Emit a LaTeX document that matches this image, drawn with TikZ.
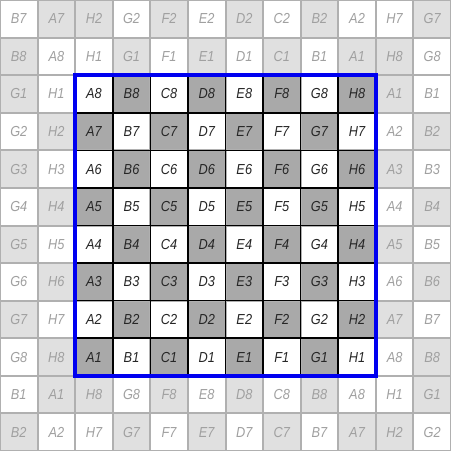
\documentclass[tikz,border=0pt]{standalone}
\usepackage{fontspec}
\setmainfont{Liberation Sans}
\newfontfamily\cellfont[FakeStretch=0.88]{Liberation Sans}
\definecolor{outerfill}{HTML}{E0E0E0}
\definecolor{innerfill}{HTML}{A9A9A9}
\definecolor{outerline}{HTML}{B0B0B0}
\definecolor{outertext}{HTML}{A0A0A0}
\definecolor{frameblue}{HTML}{0000F0}
\def\parselab#1#2\relax{\def\labfile{#1}\def\labrank{#2}%
  \ifodd\numexpr`#1+#2\relax\def\isdark{0}\else\def\isdark{1}\fi}
\begin{document}
\begin{tikzpicture}[x=37.5833pt,y=-37.5833pt,
  lab/.style={font=\cellfont\itshape\fontsize{14.5}{15}\selectfont, inner sep=0pt, anchor=center},
  outerlines/.style={draw=outerline, line width=2pt},
  innerlines/.style={draw=black, line width=1.6pt},
  frame/.style={draw=frameblue, line width=3.5pt}]
\useasboundingbox (0,0) rectangle (12,12);
\clip (0,0) rectangle (12,12);
\def\boardrows{%
 {B7,A7,H2,G2,F2,E2,D2,C2,B2,A2,H7,G7},
 {B8,A8,H1,G1,F1,E1,D1,C1,B1,A1,H8,G8},
 {G1,H1,A8,B8,C8,D8,E8,F8,G8,H8,A1,B1},
 {G2,H2,A7,B7,C7,D7,E7,F7,G7,H7,A2,B2},
 {G3,H3,A6,B6,C6,D6,E6,F6,G6,H6,A3,B3},
 {G4,H4,A5,B5,C5,D5,E5,F5,G5,H5,A4,B4},
 {G5,H5,A4,B4,C4,D4,E4,F4,G4,H4,A5,B5},
 {G6,H6,A3,B3,C3,D3,E3,F3,G3,H3,A6,B6},
 {G7,H7,A2,B2,C2,D2,E2,F2,G2,H2,A7,B7},
 {G8,H8,A1,B1,C1,D1,E1,F1,G1,H1,A8,B8},
 {B1,A1,H8,G8,F8,E8,D8,C8,B8,A8,H1,G1},
 {B2,A2,H7,G7,F7,E7,D7,C7,B7,A7,H2,G2}}
% fills
\foreach \rowlist [count=\ri from 0] in \boardrows {
  \foreach \lab [count=\ci from 0] in \rowlist {
    \expandafter\parselab\lab\relax
    \pgfmathtruncatemacro\isinner{(\ri>1)&&(\ri<10)&&(\ci>1)&&(\ci<10)}
    \ifnum\isdark=1
      \ifnum\isinner=1 \def\cellfill{innerfill}\else\def\cellfill{outerfill}\fi
    \else
      \def\cellfill{white}
    \fi
    \fill[\cellfill] (\ci,\ri) rectangle ++(1,1);
  }
}
% grid lines
\foreach \k in {0,...,12} {
  \draw[outerlines] (\k,0) -- (\k,12);
  \draw[outerlines] (0,\k) -- (12,\k);
}
\foreach \k in {2,...,10} {
  \draw[innerlines] (\k,2) -- (\k,10);
  \draw[innerlines] (2,\k) -- (10,\k);
}
% labels
\foreach \rowlist [count=\ri from 0] in \boardrows {
  \foreach \lab [count=\ci from 0] in \rowlist {
    \pgfmathtruncatemacro\isinner{(\ri>1)&&(\ri<10)&&(\ci>1)&&(\ci<10)}
    \ifnum\isinner=1 \def\txtcol{black!85}\else\def\txtcol{outertext}\fi
    \node[lab, text=\txtcol] (n\ri-\ci) at (\ci+0.5,\ri+0.5) {\lab};
  }
}
% frame
\draw[frame] (2,2) rectangle (10,10);
\end{tikzpicture}
\end{document}
